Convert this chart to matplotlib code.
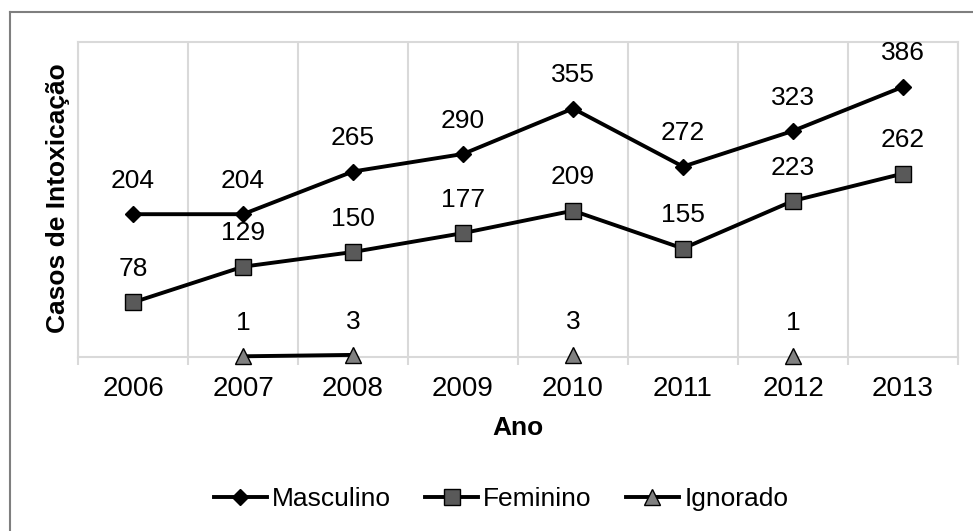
import numpy as np
import matplotlib
matplotlib.use("Agg")
import matplotlib.pyplot as plt
from matplotlib.lines import Line2D

plt.rcParams['font.family'] = ['Liberation Sans', 'DejaVu Sans']

anos = ['2006', '2007', '2008', '2009', '2010', '2011', '2012', '2013']
masculino = [204, 204, 265, 290, 355, 272, 323, 386]
feminino = [78, 129, 150, 177, 209, 155, 223, 262]
ignorado = [np.nan, 1, 3, np.nan, 3, np.nan, 1, np.nan]

W, H = 973, 531
fig = plt.figure(figsize=(W / 100, H / 100), dpi=100)
ax = fig.add_axes([78 / W, 1 - 357 / H, (958 - 78) / W, (357 - 42) / H])

x = np.arange(len(anos))
lw = 2.8
ax.plot(x, masculino, color='black', lw=lw, marker='D', ms=8.5,
        mfc='black', mec='black', label='Masculino', clip_on=False, zorder=3)
ax.plot(x, feminino, color='black', lw=lw, marker='s', ms=11,
        mfc='#595959', mec='black', mew=1.0, label='Feminino', clip_on=False, zorder=3)
ax.plot(x, ignorado, color='black', lw=lw, marker='^', ms=11.5,
        mfc='#808080', mec='black', mew=1.0, label='Ignorado', clip_on=False, zorder=3)

fs = 19
for series in (masculino, feminino, ignorado):
    for xi, v in zip(x, series):
        if np.isnan(v):
            continue
        ax.annotate(f'{int(v)}', (xi, v), xytext=(0, 24), textcoords='offset points',
                    ha='center', va='center', fontsize=fs, color='black')

ax.set_xlim(-0.5, len(anos) - 0.5)
ax.set_ylim(0, 450)
ax.set_yticks([])

# category labels at centers, tick marks at boundaries
ax.set_xticks(x)
ax.set_xticklabels(anos, fontsize=fs + 1)
ax.set_xticks(np.arange(-0.5, len(anos)), minor=True)
ax.tick_params(axis='x', which='major', length=0, pad=14)
ax.tick_params(axis='x', which='minor', length=6, width=1.5, color='#d9d9d9', direction='out')
ax.grid(True, which='minor', axis='x', color='#d9d9d9', lw=1.5)
ax.grid(False, which='major')

for s in ax.spines.values():
    s.set_color('#d9d9d9')
    s.set_linewidth(1.5)

ax.set_xlabel('Ano', fontsize=fs, fontweight='bold', labelpad=10)
fig.text(58 / W, 1 - 198 / H, 'Casos de Intoxicação', rotation=90, ha='center', va='center',
         fontsize=fs, fontweight='bold')

fig.legend(loc='center', bbox_to_anchor=(501 / W, 1 - 499 / H), ncol=3, frameon=False,
           fontsize=fs, handlelength=2.0, handletextpad=0.2, columnspacing=1.3)

# outer chart border (top and left visible)
fig.add_artist(Line2D([10 / W, 10 / W], [0, 1 - 12 / H], transform=fig.transFigure,
                      color='#7f7f7f', lw=1.5))
fig.add_artist(Line2D([10 / W, 1], [1 - 12 / H, 1 - 12 / H], transform=fig.transFigure,
                      color='#7f7f7f', lw=1.5))

fig.savefig('out.png', dpi=100)
